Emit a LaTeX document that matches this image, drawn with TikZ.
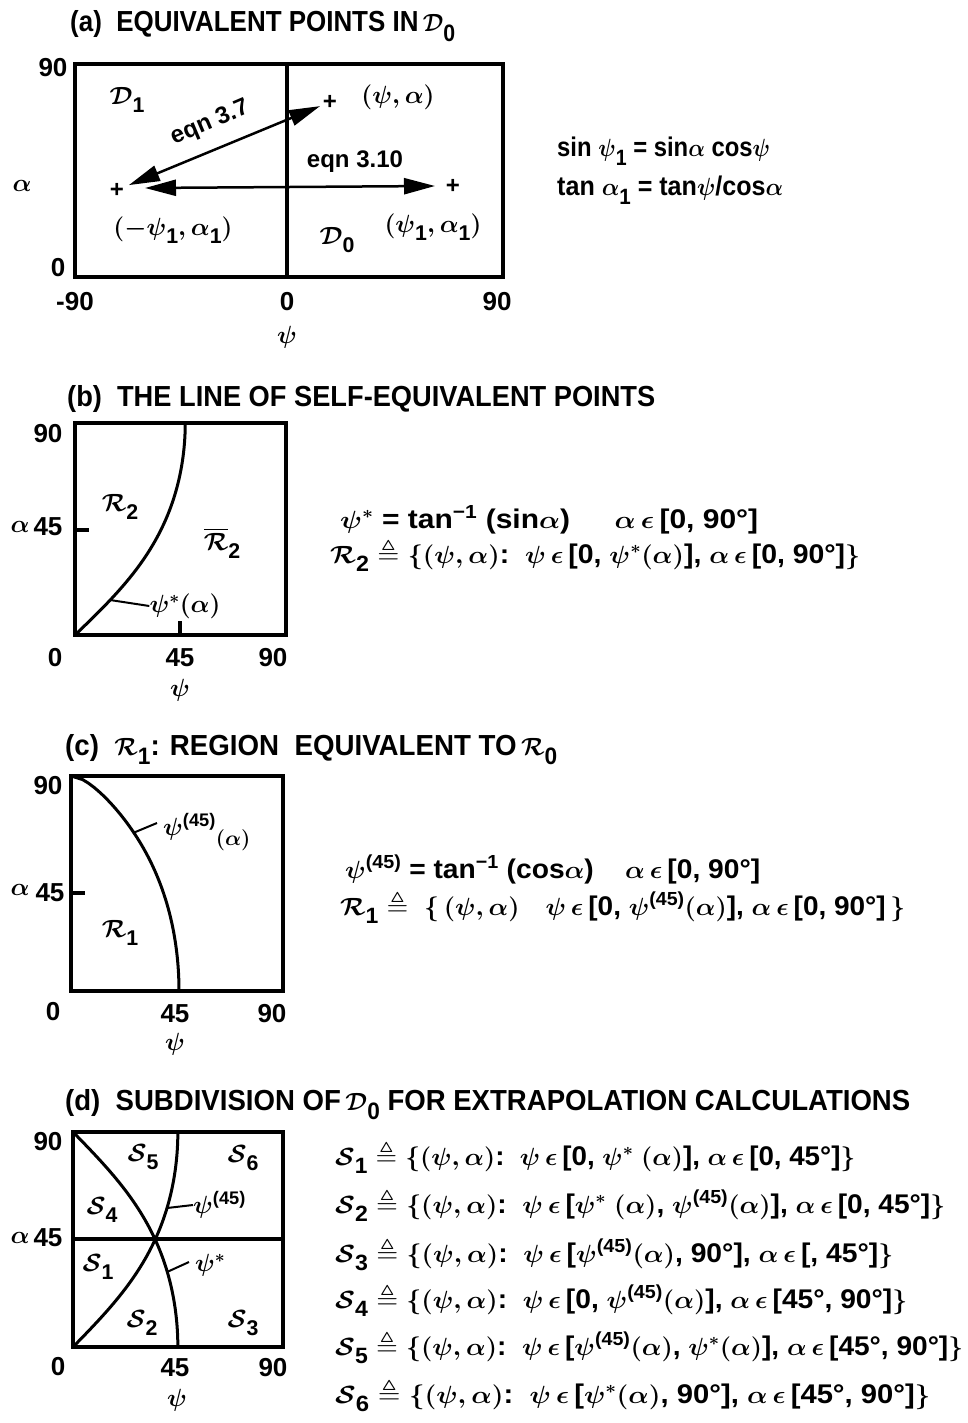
\documentclass[tikz,border=0pt]{standalone}
\usepackage{amsmath,amssymb}
\usepackage{graphicx}
\usepackage{fontspec}
\setmainfont{Liberation Sans}
\usetikzlibrary{arrows.meta}
\newcommand\fx[2]{\resizebox{#1pt}{\height}{#2}}
\newcommand\lw[1]{\mathord{\raisebox{-0.6ex}{\scalebox{0.82}{#1}}}}
\newcommand\up[1]{^{\text{#1}}}
\newcommand\el{\,\epsilon\,}
\begin{document}
\begin{tikzpicture}[x=1pt,y=-1pt,
  every node/.style={font=\bfseries\boldmath\fontsize{24}{28}\selectfont, inner sep=0pt},
  lbl/.style={font=\bfseries\boldmath\fontsize{26}{28}\selectfont},
  box/.style={line width=3.5pt},
  curve/.style={line width=3pt},
  lead/.style={line width=2pt},
  num/.style={font=\bfseries\fontsize{26}{28}\selectfont},
  title/.style={anchor=base west, font=\bfseries\boldmath\fontsize{29}{30}\selectfont},
  eq/.style={anchor=base west, font=\bfseries\boldmath\fontsize{27}{30}\selectfont},
  dbl/.style={line width=2.5pt, {Triangle[length=31pt,width=16pt]}-{Triangle[length=31pt,width=16pt]}}]
\useasboundingbox (0,0) rectangle (968,1423);

% ---------------- (a)
\node[title] (ta) at (70,32) {\fx{385}{(a)\ \ EQUIVALENT POINTS IN$\,\mathcal{D}\lw{0}$}};
\draw[box] (75,64) rectangle (503,277);
\draw[box] (287,64) -- (287,277);
\node[num] (a90) at (53,68) {90};
\node[num] (a0) at (58,268) {0};
\node[num] (am90) at (75,302) {-90};
\node[num] (ax0) at (287,302) {0};
\node[num] (ax90) at (497,302) {90};
\node[lbl] (apsi) at (287,337) {$\psi$};
\node[lbl] (aalpha) at (22,186) {$\alpha$};
\node (p) at (330,102) {+};
\node (q) at (117,190) {+};
\node (r) at (453,186) {+};
\node[lbl] (pl) at (398,97) {$(\psi,\alpha)$};
\node[lbl] (ql) at (173,230) {$(-\psi\lw{1},\alpha\lw{1})$};
\node[lbl] (rl) at (433,227) {$(\psi\lw{1},\alpha\lw{1})$};
\node[lbl] (d0) at (337,240) {$\mathcal{D}\lw{0}$};
\node[lbl] (d1) at (127,100) {$\mathcal{D}\lw{1}$};
\coordinate (h1) at (145,188);
\coordinate (h2) at (435,186);
\draw[dbl, shorten <=3pt, shorten >=5pt] (p) -- (q);
\draw[dbl] (h1) -- (h2);
\node[rotate=23] (e37) at (210,123) {eqn 3.7};
\node (e310) at (355,162) {eqn 3.10};
\node[eq] (ea1) at (557,157) {\fx{213}{sin $\psi\lw{1}$ = sin$\alpha$ cos$\psi$}};
\node[eq] (ea2) at (557,196) {\fx{226}{tan $\alpha\lw{1}$ = tan$\psi$/cos$\alpha$}};

% ---------------- (b)
\node[title] (tb) at (67,406) {\fx{588}{(b)\ \ THE LINE OF SELF-EQUIVALENT POINTS}};
\draw[box] (75,423) rectangle (286,635);
\draw[box] (75,530) -- (89,530);
\draw[box] (180,635) -- (180,621);
\node[num] (b90) at (48,434) {90};
\node[num] (b45) at (48,527) {45};
\node[lbl] (balpha) at (20,527) {$\alpha$};
\node[num] (b0) at (55,658) {0};
\node[num] (bx45) at (180,658) {45};
\node[num] (bx90) at (273,658) {90};
\node[lbl] (bpsi) at (180,690) {$\psi$};
\draw[curve] plot[domain=0:90, samples=60] ({75+2.45*atan(sin(\x))},{635-2.356*\x});
\node[lbl] (r2) at (120,507) {$\mathcal{R}\lw{2}$};
\node[lbl] (r2b) at (222,543) {$\overline{\mathcal{R}}\lw{2}$};
\node[lbl] (bps) at (185,606) {$\psi^*(\alpha)$};
\coordinate (bl1) at (110,600);
\draw[lead] (bl1) -- (bps.west);
\node[eq] (eb1) at (340,528) {\fx{418}{$\psi^*$ = tan$\up{−1}$ (sin$\alpha$)\hspace{40pt}$\alpha\el$[0, 90°]}};
\node[eq] (eb2) at (330,563) {\fx{530}{$\mathcal{R}\lw{2}\triangleq\{(\psi,\alpha)$:\ \ $\psi\el$[0, $\psi^*(\alpha)$], $\alpha\el$[0, 90°]$\}$}};

% ---------------- (c)
\node[title] (tc) at (65,755) {\fx{492}{(c)\ \ $\mathcal{R}\lw{1}$: REGION\ \ EQUIVALENT TO$\,\mathcal{R}\lw{0}$}};
\draw[box] (71,776) rectangle (283,991);
\draw[box] (71,893) -- (85,893);
\node[num] (c90) at (48,786) {90};
\node[num] (c45) at (50,893) {45};
\node[lbl] (calpha) at (20,890) {$\alpha$};
\node[num] (c0) at (53,1012) {0};
\node[num] (cx45) at (175,1014) {45};
\node[num] (cx90) at (272,1014) {90};
\node[lbl] (cpsi) at (175,1044) {$\psi$};
\draw[curve] plot[domain=0:90, samples=60] ({71+108*0.5*(atan(cos(\x))/45+sqrt(1-(\x/90)^2))},{991-2.389*\x});
\node[lbl] (r1) at (120,933) {$\mathcal{R}\lw{1}$};
\node[lbl, anchor=west] (cps) at (163,832) {$\psi\up{(45)}$\raisebox{-10pt}{\scalebox{0.85}{$(\alpha)$}}};
\coordinate (cl1) at (133,833);
\draw[lead] (cl1) -- (157,823);
\node[eq] (ec1) at (345,878) {\fx{415}{$\psi\up{(45)}$ = tan$\up{−1}$ (cos$\alpha$)\hspace{30pt}$\alpha\el$[0, 90°]}};
\node[eq] (ec2) at (340,915) {\fx{565}{$\mathcal{R}\lw{1}\triangleq$\ \ $\{\,(\psi,\alpha)$\hspace{25pt}$\psi\el$[0, $\psi\up{(45)}(\alpha)$], $\alpha\el$[0, 90°]\,$\}$}};

% ---------------- (d)
\node[title] (td) at (65,1110) {\fx{845}{(d)\ \ SUBDIVISION OF$\,\mathcal{D}\lw{0}$ FOR EXTRAPOLATION CALCULATIONS}};
\draw[box] (73,1132) rectangle (283,1347);
\draw[box] (73,1239) -- (283,1239);
\node[num] (d90) at (48,1142) {90};
\node[num] (d45) at (48,1238) {45};
\node[lbl] (dalpha) at (20,1238) {$\alpha$};
\node[num] (dd0) at (58,1367) {0};
\node[num] (dx45) at (175,1368) {45};
\node[num] (dx90) at (273,1368) {90};
\node[lbl] (dpsi) at (177,1400) {$\psi$};
\draw[curve] plot[domain=0:90, samples=60] ({73+2.33*atan(cos(\x))},{1347-2.389*\x});
\draw[curve] plot[domain=0:90, samples=60] ({73+2.33*atan(sin(\x))},{1347-2.389*\x});
\node[lbl] (s5) at (143,1157) {$\mathcal{S}\lw{5}$};
\node[lbl] (s6) at (243,1158) {$\mathcal{S}\lw{6}$};
\node[lbl] (s4) at (102,1210) {$\mathcal{S}\lw{4}$};
\node[lbl] (s1) at (98,1267) {$\mathcal{S}\lw{1}$};
\node[lbl] (s2) at (142,1323) {$\mathcal{S}\lw{2}$};
\node[lbl] (s3) at (243,1323) {$\mathcal{S}\lw{3}$};
\node[lbl, anchor=west] (dps45) at (193,1205) {$\psi\up{(45)}$};
\node[lbl, anchor=west] (dpss) at (195,1265) {$\psi^*$};
\coordinate (dl1) at (167,1208);
\coordinate (dl2) at (167,1272);
\draw[lead] (dl1) -- (dps45.west);
\draw[lead] (dl2) -- (189,1262);
\node[eq] (es1) at (335,1165) {\fx{520}{$\mathcal{S}\lw{1}\triangleq\{(\psi,\alpha)$:\ \ $\psi\el$[0, $\psi^*$ $(\alpha)$], $\alpha\el$[0, 45°]$\}$}};
\node[eq] (es2) at (335,1213) {\fx{610}{$\mathcal{S}\lw{2}\triangleq\{(\psi,\alpha)$:\ \ $\psi\el$[$\psi^*$ $(\alpha)$, $\psi\up{(45)}(\alpha)$], $\alpha\el$[0, 45°]$\}$}};
\node[eq] (es3) at (335,1262) {\fx{558}{$\mathcal{S}\lw{3}\triangleq\{(\psi,\alpha)$:\ \ $\psi\el$[$\psi\up{(45)}(\alpha)$, 90°], $\alpha\el$[, 45°]$\}$}};
\node[eq] (es4) at (335,1308) {\fx{572}{$\mathcal{S}\lw{4}\triangleq\{(\psi,\alpha)$:\ \ $\psi\el$[0, $\psi\up{(45)}(\alpha)$], $\alpha\el$[45°, 90°]$\}$}};
\node[eq] (es5) at (335,1355) {\fx{628}{$\mathcal{S}\lw{5}\triangleq\{(\psi,\alpha)$:\ \ $\psi\el$[$\psi\up{(45)}(\alpha)$, $\psi^*(\alpha)$], $\alpha\el$[45°, 90°]$\}$}};
\node[eq] (es6) at (335,1403) {\fx{595}{$\mathcal{S}\lw{6}\triangleq\{(\psi,\alpha)$:\ \ $\psi\el$[$\psi^*(\alpha)$, 90°], $\alpha\el$[45°, 90°]$\}$}};
\end{tikzpicture}
\end{document}
